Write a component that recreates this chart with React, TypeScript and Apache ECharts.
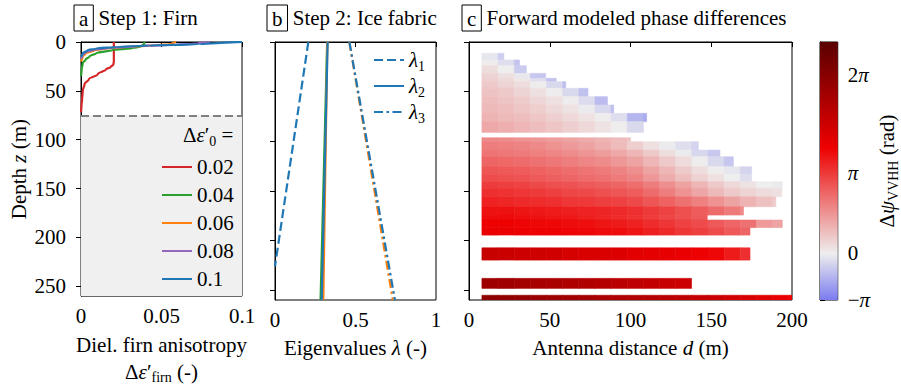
import React, { useEffect, useRef } from 'react';
import * as echarts from 'echarts';

const FONT = 'Liberation Serif';

// ---------- Panel a: firn anisotropy profiles (anisotropy, depth in m) ----------
const firnLabels = ['0.02', '0.04', '0.06', '0.08', '0.1'];
const firnColors = ['#d62728', '#2ca02c', '#ff7f0e', '#9467bd', '#1f77b4'];
const aniso002 = [0.0204, 0.0204, 0.0201, 0.0185, 0.0156, 0.0104, 0.0049, 0.0022, 0.0011, 0.0007, 0.0003, 0];
const depth002 = [0, 20, 23, 25.5, 28, 33, 38, 43, 50, 58, 65, 72];
const aniso004 = [0.0394, 0.0392, 0.037, 0.032, 0.0196, 0.0094, 0.0053, 0.0028, 0.0011, 0.0004, 0];
const depth004 = [0, 2, 4.5, 6.4, 8.2, 11.4, 14.8, 18.1, 21.5, 28, 35];
const aniso006 = [0.059, 0.056, 0.047, 0.028, 0.0157, 0.0084, 0.0028, 0.001, 0];
const depth006 = [0, 2, 3.4, 5, 6.7, 8.4, 11.7, 15, 20];
const aniso008 = [0.08, 0.072, 0.058, 0.035, 0.018, 0.008, 0.003, 0.001, 0];
const depth008 = [0, 1.5, 2.8, 4.3, 6, 8, 10.5, 13, 17];
const aniso010 = [0.1, 0.0736, 0.0425, 0.0219, 0.0094, 0.0042, 0.001, 0];
const depth010 = [0, 2.3, 3.7, 5, 6.7, 8.4, 11.7, 15];
const firnBaseDepth = 75;
const depthMax = 260;
const depthTicks = [0, 50, 100, 150, 200, 250];

// ---------- Panel b: fabric eigenvalues (value, depth in m) ----------
const lam1Value = [0.207, 0.0];
const lam1Depth = [0, 226];
const lam2Value = [0.327, 0.29];
const lam2ValueOrange = [0.325, 0.3];
const lam2ValueGreen = [0.324, 0.283];
const lam2Depth = [0, 260];
const lam3Value = [0.462, 0.745];
const lam3ValueOrange = [0.462, 0.732];
const lam3Depth = [0, 260];

// ---------- Panel c: modelled phase difference (rad) per depth layer ----------
// each layer: depth top / bottom (m), last antenna distance (m), phase per 10 m column from d = 8 m
const distStart = 8;
const distStep = 10;
const rowTop = [
  11.4, 18.1, 23.9, 31.6, 36.6, 40.0, 46.7, 55.1, 63.5, 71.9, 80.3,
  96.5, 100.5, 108.9, 115.6, 125.7, 133.3, 140.8, 147.5, 156.0, 166.0, 174.4, 179.4, 187.0,
  207.4, 238.2, 255.2,
];
const rowBottom = [
  18.1, 23.9, 31.6, 36.6, 40.0, 46.7, 55.1, 63.5, 71.9, 80.3, 91.1,
  100.5, 108.9, 115.6, 125.7, 133.3, 140.8, 147.5, 156.0, 166.0, 174.4, 179.4, 187.0, 194.6,
  219.8, 248.3, 260,
];
const rowEnd = [
  21.6, 31.3, 35.5, 47.5, 54, 59.9, 73.7, 85.7, 89.6, 110, 108,
  100, 142, 155.4, 163.7, 175, 175, 194, 193.7, 190, 170, 147.5, 194, 174,
  174, 137.8, 200,
];
const rowPhase = [
  [-0.2, -0.7],
  [0.0, -0.35, -0.9],
  [0.3, -0.05, -0.75],
  [0.5, 0.25, -0.15, -0.85],
  [0.6, 0.4, 0.1, -0.35, -0.95],
  [0.7, 0.5, 0.3, 0.0, -0.45, -1.0],
  [0.8, 0.7, 0.5, 0.25, 0.0, -0.45, -0.95],
  [0.9, 0.8, 0.65, 0.45, 0.25, 0.0, -0.4, -1.1],
  [1.0, 0.9, 0.75, 0.6, 0.4, 0.2, -0.1, -0.5, -1.0],
  [1.1, 1.0, 0.9, 0.75, 0.6, 0.4, 0.2, 0.0, -0.35, -1.2, -1.5],
  [1.3, 1.2, 1.05, 0.9, 0.75, 0.6, 0.4, 0.2, 0.0, -0.45],
  [1.85, 1.8, 1.7, 1.6, 1.5, 1.4, 1.25, 1.1, 0.95, 0.85],
  [2.05, 2.0, 1.95, 1.85, 1.7, 1.55, 1.4, 1.2, 0.95, 0.6, 0.25, -0.1, -0.35, -0.55],
  [2.2, 2.15, 2.1, 2.0, 1.9, 1.8, 1.65, 1.5, 1.3, 1.05, 0.7, 0.3, -0.1, -0.5, -0.8],
  [2.45, 2.4, 2.35, 2.25, 2.15, 2.05, 1.9, 1.8, 1.6, 1.4, 1.05, 0.7, 0.35, 0.0, -0.45, -0.85],
  [2.7, 2.65, 2.6, 2.5, 2.4, 2.3, 2.2, 2.1, 1.95, 1.75, 1.4, 1.05, 0.65, 0.3, 0.0, -0.2, -0.55],
  [2.85, 2.8, 2.75, 2.65, 2.55, 2.45, 2.35, 2.25, 2.1, 1.95, 1.6, 1.25, 0.9, 0.55, 0.25, -0.05, -0.35],
  [3.1, 3.05, 3.0, 2.9, 2.8, 2.75, 2.65, 2.55, 2.45, 2.3, 2.05, 1.75, 1.4, 1.05, 0.7, 0.4, 0.2, -0.05, -0.1],
  [3.3, 3.25, 3.2, 3.15, 3.05, 2.95, 2.9, 2.8, 2.7, 2.6, 2.35, 2.05, 1.7, 1.35, 1.0, 0.7, 0.5, 0.35, 0.25],
  [3.5, 3.45, 3.4, 3.35, 3.3, 3.2, 3.15, 3.05, 3.0, 2.9, 2.7, 2.5, 2.25, 2.0, 1.7, 1.4, 1.1, 0.85, 0.65],
  [3.75, 3.75, 3.7, 3.65, 3.6, 3.55, 3.5, 3.45, 3.4, 3.3, 3.15, 3.0, 2.8, 2.6, 2.35, 2.1, 1.85],
  [3.85, 3.85, 3.8, 3.75, 3.7, 3.65, 3.55, 3.45, 3.35, 3.25, 3.1, 2.95, 2.8, 2.65],
  [4.0, 4.0, 3.95, 3.9, 3.9, 3.85, 3.8, 3.7, 3.6, 3.5, 3.35, 3.2, 3.0, 2.85, 2.65, 2.45, 2.25, 1.55, 1.4],
  [4.1, 4.1, 4.05, 4.0, 4.0, 3.95, 3.9, 3.85, 3.8, 3.7, 3.55, 3.4, 3.2, 3.05, 2.85, 2.65, 2.45],
  [4.9, 4.85, 4.8, 4.75, 4.7, 4.6, 4.5, 4.45, 4.4, 4.3, 4.25, 4.2, 4.1, 4.0, 3.9, 3.6, 3.3],
  [5.8, 5.75, 5.7, 5.6, 5.55, 5.45, 5.4, 5.3, 5.2, 5.1, 5.0, 4.9, 4.8],
  [6.2, 6.1, 6.0, 5.9, 5.8, 5.75, 5.65, 5.55, 5.45, 5.4, 5.3, 5.2, 5.1, 4.95, 4.85, 4.7, 4.55, 4.35, 4.15, 4.0],
];

// colour scale: power norm on [-pi, 2.3 pi]
const phaseMin = -Math.PI;
const phaseMax = 2.3 * Math.PI;
const phaseGamma = 1.42;
const cbTickValues = [-Math.PI, 0, Math.PI, 2 * Math.PI];
const cbTickLabels = ['−{i|π}', '0', '{i|π}', '2{i|π}'];
const cmapStops: [number, string][] = [
  [0, '#7b7bf0'],
  [0.18, '#eeeeee'],
  [0.59, '#ee0000'],
  [1, '#5a0000'],
];

function phaseNorm(v: number) {
  const u = (v - phaseMin) / (phaseMax - phaseMin);
  return Math.pow(Math.min(1, Math.max(0, u)), phaseGamma);
}
function hexToRgb(h: string) {
  const n = parseInt(h.slice(1), 16);
  return [(n >> 16) & 255, (n >> 8) & 255, n & 255];
}
function phaseColor(v: number) {
  const t = phaseNorm(v);
  for (let k = 1; k < cmapStops.length; k++) {
    const [t1, c1] = cmapStops[k];
    if (t <= t1) {
      const [t0, c0] = cmapStops[k - 1];
      const f = (t - t0) / (t1 - t0);
      const a = hexToRgb(c0);
      const b = hexToRgb(c1);
      const c = a.map((x, j) => Math.round(x + (b[j] - x) * f));
      return `rgb(${c[0]},${c[1]},${c[2]})`;
    }
  }
  return cmapStops[cmapStops.length - 1][1];
}

const zip = (xs: number[], ys: number[]) => xs.map((x, i) => [x, ys[i]]);

const richText = (lh: number) => ({
  n: { fontFamily: FONT, fontSize: 21, color: '#000', lineHeight: lh },
  i: { fontFamily: FONT, fontSize: 21, fontStyle: 'italic', color: '#000', lineHeight: lh },
  s: { fontFamily: FONT, fontSize: 14, color: '#000', lineHeight: lh, padding: [12, 0, 0, 0] },
  box: {
    fontFamily: FONT, fontSize: 21, color: '#000', lineHeight: lh,
    borderColor: '#000', borderWidth: 1, padding: [3, 5, 2, 5],
  },
});

function buildOption() {
  const phaseCells: number[][] = [];
  rowPhase.forEach((vals, r) => {
    vals.forEach((v, i) => {
      const d0 = distStart + i * distStep;
      const d1 = Math.min(d0 + distStep, rowEnd[r]);
      if (v == null || d1 <= d0) return;
      phaseCells.push([d0, d1, rowTop[r], rowBottom[r], v]);
    });
  });

  const labelStyle = { fontFamily: FONT, fontSize: 21, color: '#000' };
  const axisLine = { show: true, lineStyle: { color: '#000', width: 1 } };
  const tick = { show: true, length: 5, inside: false, lineStyle: { color: '#000', width: 1 } };

  const xBase = (gridIndex: number, min: number, max: number, interval: number, name: string) => ({
    type: 'value', gridIndex, min, max, interval,
    axisLine, axisTick: tick,
    axisLabel: { ...labelStyle, margin: 9 },
    splitLine: { show: false },
    name, nameLocation: 'middle', nameGap: 33,
    nameTextStyle: { ...labelStyle, lineHeight: 27, rich: richText(27) },
  });
  const yBase = (gridIndex: number, showLabels: boolean) => ({
    type: 'value', gridIndex, inverse: true, min: 0, max: depthMax,
    axisLine,
    axisTick: { ...tick, customValues: depthTicks },
    axisLabel: { ...labelStyle, show: showLabels, margin: 15, customValues: depthTicks },
    splitLine: { show: false },
  });

  const firnAniso = [aniso002, aniso004, aniso006, aniso008, aniso010];
  const firnDepth = [depth002, depth004, depth006, depth008, depth010];

  const firnSeries = firnLabels.map((label, k) => ({
    type: 'line', name: label, xAxisIndex: 0, yAxisIndex: 0,
    data: zip(firnAniso[k], firnDepth[k]),
    symbol: 'none', smooth: 0.35, smoothMonotone: 'y',
    color: firnColors[k],
    lineStyle: { width: 2.2, color: firnColors[k] },
    z: 3,
    ...(k === 0
      ? {
          markArea: {
            silent: true,
            itemStyle: { color: '#f0f0f0' },
            data: [[{ yAxis: firnBaseDepth }, { yAxis: depthMax }]],
            z: 1,
          },
          markLine: {
            silent: true, symbol: 'none', label: { show: false },
            lineStyle: { color: '#808080', type: [8, 4], width: 2 },
            data: [{ yAxis: firnBaseDepth }],
          },
        }
      : {}),
  }));

  const lamLine = (name: string, xs: number[], zs: number[], color: string, type: any) => ({
    type: 'line', name, xAxisIndex: 1, yAxisIndex: 1,
    data: zip(xs, zs), symbol: 'none', color,
    lineStyle: { width: 2.2, color, type },
  });
  const dashed = [9, 4];
  const dashDot = [9, 3.5, 2.5, 3.5];
  const lamSeries = [
    lamLine('lam2-g', lam2ValueGreen, lam2Depth, '#2ca02c', 'solid'),
    lamLine('lam2-o', lam2ValueOrange, lam2Depth, '#ff7f0e', 'solid'),
    lamLine('lam3-o', lam3ValueOrange, lam3Depth, '#ff7f0e', dashDot),
    lamLine('lam1', lam1Value, lam1Depth, '#1f77b4', dashed),
    lamLine('lam2', lam2Value, lam2Depth, '#1f77b4', 'solid'),
    lamLine('lam3', lam3Value, lam3Depth, '#1f77b4', dashDot),
  ];
  const lamNames: Record<string, string> = {
    lam1: '{i|λ}{s|1}', lam2: '{i|λ}{s|2}', lam3: '{i|λ}{s|3}',
  };

  const heatSeries = {
    type: 'custom', xAxisIndex: 2, yAxisIndex: 2,
    encode: { x: [0, 1], y: [2, 3] },
    data: phaseCells, clip: true, z: 2,
    renderItem: (params: any, api: any) => {
      const p0 = api.coord([api.value(0), api.value(2)]);
      const p1 = api.coord([api.value(1), api.value(3)]);
      const fill = phaseColor(api.value(4));
      return {
        type: 'rect',
        shape: {
          x: Math.min(p0[0], p1[0]), y: Math.min(p0[1], p1[1]),
          width: Math.abs(p1[0] - p0[0]), height: Math.abs(p1[1] - p0[1]),
        },
        style: { fill, stroke: fill, lineWidth: 0.6 },
      };
    },
  };

  const cbTicks = cbTickValues.map(phaseNorm);
  const colorbarSeries = {
    type: 'custom', xAxisIndex: 3, yAxisIndex: 3,
    encode: { x: [0, 1], y: [2, 3] },
    data: [[0, 1, 0, 1]],
    renderItem: (params: any, api: any) => {
      const p0 = api.coord([0, 0]);
      const p1 = api.coord([1, 1]);
      return {
        type: 'rect',
        shape: { x: p0[0], y: p1[1], width: p1[0] - p0[0], height: p0[1] - p1[1] },
        style: {
          fill: new echarts.graphic.LinearGradient(
            0, 1, 0, 0,
            cmapStops.map(([offset, color]) => ({ offset, color })),
          ),
        },
      };
    },
  };

  const legendCommon = {
    orient: 'vertical', padding: 0, itemWidth: 30, itemHeight: 14,
    selectedMode: false,
    itemStyle: { opacity: 0, borderWidth: 0 },
  };

  return {
    animation: false,
    backgroundColor: '#fff',
    textStyle: { fontFamily: FONT },
    title: [
      { text: '{box|a} Step 1: Firn', left: 74, top: 6, padding: 0,
        textStyle: { ...labelStyle, fontWeight: 'normal', lineHeight: 24, rich: richText(24) } },
      { text: '{box|b} Step 2: Ice fabric', left: 267, top: 6, padding: 0,
        textStyle: { ...labelStyle, fontWeight: 'normal', lineHeight: 24, rich: richText(24) } },
      { text: '{box|c} Forward modeled phase differences', left: 462, top: 6, padding: 0,
        textStyle: { ...labelStyle, fontWeight: 'normal', lineHeight: 24, rich: richText(24) } },
      { text: '{n|Δ}{i|ε}{n|′}{s|0}{n| =}', left: 183, top: 123, padding: 0,
        textStyle: { ...labelStyle, fontWeight: 'normal', lineHeight: 24, rich: richText(24) } },
    ],
    legend: [
      {
        ...legendCommon,
        data: firnLabels, left: 161, top: 155, itemGap: 4,
        textStyle: { ...labelStyle, lineHeight: 24 },
      },
      {
        ...legendCommon,
        data: ['lam1', 'lam2', 'lam3'], left: 373, top: 47, itemGap: 0,
        formatter: (name: string) => lamNames[name],
        textStyle: { ...labelStyle, lineHeight: 24, rich: richText(24) },
      },
    ],
    grid: [
      { left: 81, top: 42, width: 161, height: 258, show: true, borderColor: '#000', borderWidth: 1, backgroundColor: 'transparent' },
      { left: 275, top: 42, width: 161, height: 258, show: true, borderColor: '#000', borderWidth: 1, backgroundColor: 'transparent' },
      { left: 469, top: 42, width: 323, height: 258, show: true, borderColor: '#000', borderWidth: 1, backgroundColor: 'transparent' },
      { left: 820, top: 42, width: 19, height: 258, show: true, borderColor: '#000', borderWidth: 1, backgroundColor: 'transparent' },
    ],
    xAxis: [
      xBase(0, 0, 0.1, 0.05, 'Diel. firn anisotropy\n{n|Δ}{i|ε}{n|′}{s|firn}{n| (-)}'),
      xBase(1, 0, 1, 0.5, 'Eigenvalues {i|λ} (-)'),
      xBase(2, 0, 200, 50, 'Antenna distance {i|d} (m)'),
      { type: 'value', gridIndex: 3, min: 0, max: 1, show: false },
    ],
    yAxis: [
      {
        ...yBase(0, true),
        name: 'Depth {i|z} (m)', nameLocation: 'middle', nameGap: 50, nameRotate: 90,
        nameTextStyle: { ...labelStyle, lineHeight: 24, rich: richText(24) },
      },
      yBase(1, false),
      yBase(2, false),
      {
        type: 'value', gridIndex: 3, min: 0, max: 1, position: 'right',
        axisLine,
        axisTick: { ...tick, customValues: cbTicks },
        axisLabel: {
          ...labelStyle, margin: 10, customValues: cbTicks,
          formatter: (t: number) => {
            let best = 0;
            cbTicks.forEach((c, k) => { if (Math.abs(c - t) < Math.abs(cbTicks[best] - t)) best = k; });
            return cbTickLabels[best];
          },
          rich: richText(24),
        },
        splitLine: { show: false },
        name: '{n|Δ}{i|ψ}{s|VVHH}{n| (rad)}', nameLocation: 'middle', nameGap: 36, nameRotate: 90,
        nameTextStyle: { ...labelStyle, lineHeight: 24, rich: richText(24) },
      },
    ],
    series: [...firnSeries, ...lamSeries, heatSeries, colorbarSeries],
  };
}

export default function App() {
  const ref = useRef<HTMLDivElement>(null);
  useEffect(() => {
    const chart = echarts.init(ref.current!, null, { renderer: 'svg' });
    chart.setOption(buildOption() as any);
    return () => chart.dispose();
  }, []);
  return (
    <div
      ref={ref}
      style={{ position: 'fixed', left: 0, top: 0, width: 901, height: 390, background: '#fff' }}
    />
  );
}
